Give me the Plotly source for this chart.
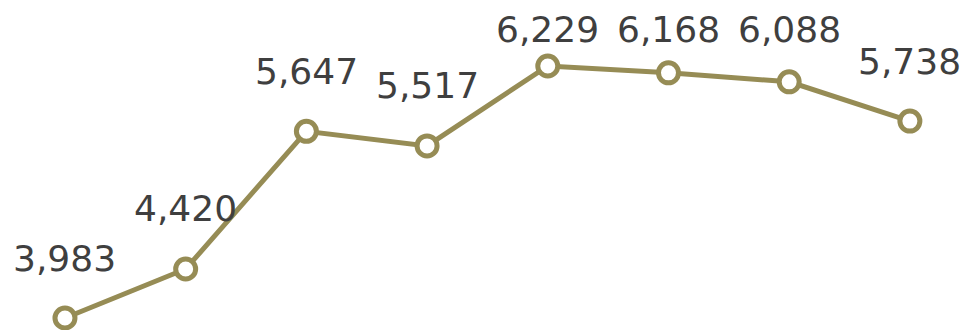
import plotly.graph_objects as go

categories = ["1", "2", "3", "4", "5", "6", "7", "8"]
values = [3983, 4420, 5647, 5517, 6229, 6168, 6088, 5738]
labels = ["3,983", "4,420", "5,647", "5,517", "6,229", "6,168", "6,088", "5,738"]

LINE = "#968C55"
TEXT = "#3F3F3F"

y_min, y_max = 3805, 6746
px_per_unit = 330 / (y_max - y_min)
label_offset = 60 / px_per_unit
label_top = y_max - 21 / px_per_unit

xs = list(range(len(categories)))
fig = go.Figure()
fig.add_trace(go.Scatter(
    x=xs, y=values, mode="lines+markers",
    line=dict(color=LINE, width=5),
    marker=dict(size=20, color="white", line=dict(color=LINE, width=5)),
    cliponaxis=False, hoverinfo="skip",
))
for x, v, t in zip(xs, values, labels):
    fig.add_annotation(x=x, y=min(v + label_offset, label_top), text=t,
                       showarrow=False, yanchor="middle", xanchor="center",
                       font=dict(family="DejaVu Sans", size=36, color=TEXT))

fig.update_layout(
    width=969, height=330, margin=dict(l=0, r=0, t=0, b=0),
    paper_bgcolor="white", plot_bgcolor="white", showlegend=False,
    xaxis=dict(range=[-0.472, 7.556], visible=False),
    yaxis=dict(range=[y_min, y_max], visible=False),
)
fig.write_html("out.html")
